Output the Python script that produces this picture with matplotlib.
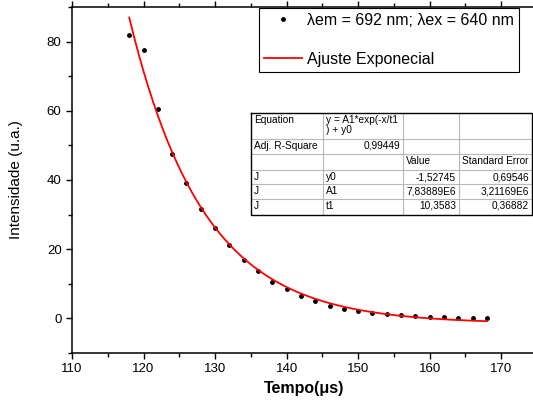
import numpy as np
import matplotlib.pyplot as plt
from matplotlib.ticker import MultipleLocator

plt.rcParams['font.family'] = ['Liberation Sans', 'DejaVu Sans']

tempo = [118, 120, 122, 124, 126, 128, 130, 132, 134, 136, 138, 140, 142,
         144, 146, 148, 150, 152, 154, 156, 158, 160, 162, 164, 166, 168]
intensidade = [81.8, 77.5, 60.5, 47.6, 39.0, 31.6, 26.0, 21.1, 17.0, 13.6,
               10.6, 8.4, 6.4, 4.9, 3.6, 2.8, 2.1, 1.6, 1.2, 0.9, 0.6, 0.4,
               0.3, 0.2, 0.2, 0.2]

# fit parameters from the table
y0, A1, t1 = -1.52745, 7.83889e6, 10.3583

table_rows = [
    ['Equation', 'y = A1*exp(-x/t1\n) + y0', '', ''],
    ['Adj. R-Square', '0,99449', '', ''],
    ['', '', 'Value', 'Standard Error'],
    ['J', 'y0', '-1,52745', '0,69546'],
    ['J', 'A1', '7,83889E6', '3,21169E6'],
    ['J', 't1', '10,3583', '0,36882'],
]

fig = plt.figure(figsize=(5.33, 4.05), dpi=100)
ax = fig.add_axes([72 / 533, 52 / 405, 465 / 533, 346 / 405])

ax.plot(tempo, intensidade, 'o', color='black', markersize=2.5, linestyle='none',
        label='\u03bbem = 692 nm; \u03bbex = 640 nm')
xf = np.linspace(min(tempo), max(tempo), 300)
ax.plot(xf, A1 * np.exp(-xf / t1) + y0, color='red', lw=1.3, label='Ajuste Exponecial')

ax.set_xlim(110, 175)
ax.set_ylim(-10, 90)
ax.xaxis.set_major_locator(MultipleLocator(10))
ax.xaxis.set_minor_locator(MultipleLocator(5))
ax.yaxis.set_major_locator(MultipleLocator(20))
ax.yaxis.set_minor_locator(MultipleLocator(10))
ax.tick_params(which='both', direction='out', top=True, width=1, labelsize=9.5)
ax.tick_params(which='major', length=4)
ax.tick_params(which='minor', length=3)
for s in ax.spines.values():
    s.set_linewidth(1.1)

ax.set_xlabel('Tempo(\u03bcs)', fontsize=11.5, fontweight='bold', labelpad=4)
ax.set_ylabel('Intensidade (u.a.)', fontsize=11, labelpad=17)

leg = ax.legend(loc='upper left', bbox_to_anchor=(259 / 533, 1 - 8 / 405),
                bbox_transform=fig.transFigure, fontsize=11.5, frameon=True,
                fancybox=False, framealpha=1, edgecolor='black',
                labelspacing=1.5, handlelength=2.4, handletextpad=0.3,
                borderpad=0.3, borderaxespad=0)
leg.get_frame().set_linewidth(0.8)

# fit results table
col_w = [72, 80, 56, 73]
row_h = [26, 15, 16, 14, 15, 16]
tab = fig.add_axes([251 / 533, (405 - 215) / 405, sum(col_w) / 533, sum(row_h) / 405])
tab.set_xlim(0, sum(col_w))
tab.set_ylim(sum(row_h), 0)
tab.axis('off')
xe = np.concatenate([[0], np.cumsum(col_w)])
ye = np.concatenate([[0], np.cumsum(row_h)])
for x in xe[1:-1]:
    tab.plot([x, x], [0, ye[-1]], color='#b8b8b8', lw=0.8)
for y in ye[1:-1]:
    tab.plot([0, xe[-1]], [y, y], color='#b8b8b8', lw=0.8)
tab.plot([0, xe[-1], xe[-1], 0, 0], [0, 0, ye[-1], ye[-1], 0], color='black', lw=1.0,
         clip_on=False)
for r, row in enumerate(table_rows):
    for c, txt in enumerate(row):
        if not txt:
            continue
        numeric = txt[0].isdigit() or txt[0] == '-'
        if numeric and not (c == 1 and r != 1):
            tab.text(xe[c + 1] - 3, ye[r] + 2, txt, ha='right', va='top', fontsize=7.3)
        else:
            tab.text(xe[c] + 3, ye[r] + 2, txt, ha='left', va='top', fontsize=7.3,
                     linespacing=1.0)

fig.savefig('out.png', dpi=100)
